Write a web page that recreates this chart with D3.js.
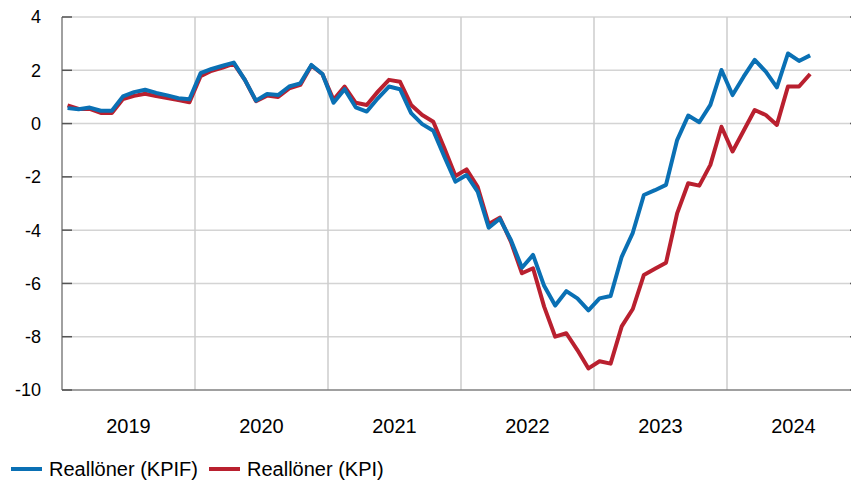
<!DOCTYPE html>
<html>
<head>
  <meta charset="utf-8" />
  <script src="https://d3js.org/d3.v7.min.js"></script>
  <style>
    body {
      margin: 0;
      padding: 0;
      background-color: #ffffff;
    }
    svg text {
      font-family: "Liberation Sans", Arial, sans-serif;
      fill: #000;
    }
  </style>
</head>
<body>
  <svg id="chart" width="851" height="482"></svg>
  <script>
    // monthly values, Jan 2019 - Aug 2024
    const years = ["2019", "2020", "2021", "2022", "2023", "2024"];
    const kpif = [
      0.58, 0.54, 0.60, 0.48, 0.48, 1.02, 1.18, 1.27, 1.15, 1.06, 0.95, 0.91,
      1.89, 2.05, 2.17, 2.29, 1.64, 0.86, 1.11, 1.07, 1.39, 1.51, 2.20, 1.86,
      0.78, 1.29, 0.61, 0.45, 0.95, 1.39, 1.29, 0.39, -0.02, -0.27, -1.24, -2.18,
      -1.93, -2.55, -3.91, -3.57, -4.37, -5.41, -4.93, -6.09, -6.83, -6.29, -6.56, -7.01,
      -6.56, -6.47, -5.00, -4.10, -2.68, -2.50, -2.30, -0.62, 0.30, 0.05, 0.70, 2.01,
      1.07, 1.76, 2.39, 1.95, 1.36, 2.63, 2.35, 2.56
    ];
    const kpi = [
      0.68, 0.55, 0.55, 0.40, 0.40, 0.92, 1.04, 1.12, 1.03, 0.96, 0.88, 0.80,
      1.78, 1.98, 2.10, 2.25, 1.64, 0.84, 1.05, 1.00, 1.32, 1.45, 2.18, 1.85,
      0.89, 1.39, 0.78, 0.70, 1.20, 1.64, 1.57, 0.70, 0.32, 0.07, -0.93, -1.97,
      -1.72, -2.37, -3.77, -3.53, -4.43, -5.62, -5.43, -6.87, -8.00, -7.87, -8.50, -9.19,
      -8.92, -9.01, -7.61, -6.96, -5.68, -5.45, -5.22, -3.37, -2.24, -2.33, -1.55, -0.12,
      -1.05, -0.27, 0.51, 0.32, -0.05, 1.39, 1.39, 1.86
    ];
    const yTicks = [4, 2, 0, -2, -4, -6, -8, -10];
    const seriesNames = ["Reallöner (KPIF)", "Reallöner (KPI)"];
    const colors = ["#0a70b4", "#b9202f"];

    const svg = d3.select("#chart");
    const plot = { left: 62, right: 860, top: 17, bottom: 390 };

    const x = d3.scaleLinear().domain([0, years.length * 12]).range([plot.left, plot.right]);
    const y = d3.scaleLinear().domain([-10, 4]).range([plot.bottom, plot.top]);

    // horizontal grid
    svg.append("g")
      .selectAll("line")
      .data(yTicks.filter(d => d > -10))
      .enter()
      .append("line")
      .attr("x1", plot.left).attr("x2", plot.right)
      .attr("y1", d => y(d)).attr("y2", d => y(d))
      .attr("stroke", "#d4d4d4")
      .attr("stroke-width", 1.5);

    // year separators
    svg.append("g")
      .selectAll("line")
      .data(d3.range(1, years.length))
      .enter()
      .append("line")
      .attr("x1", d => x(d * 12)).attr("x2", d => x(d * 12))
      .attr("y1", plot.top).attr("y2", plot.bottom)
      .attr("stroke", "#cccccc")
      .attr("stroke-width", 1.5);

    // axis lines + inward ticks
    svg.append("line")
      .attr("x1", plot.left).attr("x2", plot.left).attr("y1", plot.top).attr("y2", plot.bottom)
      .attr("stroke", "#808080").attr("stroke-width", 1.5);
    svg.append("line")
      .attr("x1", plot.left).attr("x2", plot.right).attr("y1", plot.bottom).attr("y2", plot.bottom)
      .attr("stroke", "#808080").attr("stroke-width", 1.5);
    svg.append("line")
      .attr("x1", plot.right).attr("x2", plot.right).attr("y1", plot.top).attr("y2", plot.bottom)
      .attr("stroke", "#808080").attr("stroke-width", 1.5);

    svg.append("g")
      .selectAll("line")
      .data(yTicks)
      .enter()
      .append("line")
      .attr("x1", plot.left).attr("x2", plot.left + 10)
      .attr("y1", d => y(d)).attr("y2", d => y(d))
      .attr("stroke", "#555").attr("stroke-width", 1.5);
    svg.append("g")
      .selectAll("line")
      .data(yTicks)
      .enter()
      .append("line")
      .attr("x1", plot.right - 10).attr("x2", plot.right)
      .attr("y1", d => y(d)).attr("y2", d => y(d))
      .attr("stroke", "#555").attr("stroke-width", 1.5);

    // y labels
    svg.append("g")
      .selectAll("text")
      .data(yTicks)
      .enter()
      .append("text")
      .attr("x", 41)
      .attr("y", d => y(d))
      .attr("dy", "0.36em")
      .attr("text-anchor", "end")
      .style("font-size", "18px")
      .text(d => d);

    // year labels
    svg.append("g")
      .selectAll("text")
      .data(years)
      .enter()
      .append("text")
      .attr("x", (d, i) => x(i * 12 + 6))
      .attr("y", 433)
      .attr("text-anchor", "middle")
      .style("font-size", "20px")
      .text(d => d);

    // lines, KPI below KPIF
    const line = d3.line()
      .x((d, i) => x(i + 0.5))
      .y(d => y(d));

    [kpi, kpif].forEach((s, k) => {
      svg.append("path")
        .datum(s)
        .attr("fill", "none")
        .attr("stroke", colors[1 - k])
        .attr("stroke-width", 4)
        .attr("stroke-linejoin", "round")
        .attr("d", line);
    });

    // legend
    const legX = [11, 209];
    seriesNames.forEach((name, i) => {
      svg.append("line")
        .attr("x1", legX[i]).attr("x2", legX[i] + 31)
        .attr("y1", 469).attr("y2", 469)
        .attr("stroke", colors[i])
        .attr("stroke-width", 4);
      svg.append("text")
        .attr("x", legX[i] + 38)
        .attr("y", 476)
        .style("font-size", "20px")
        .text(name);
    });
  </script>
</body>
</html>
